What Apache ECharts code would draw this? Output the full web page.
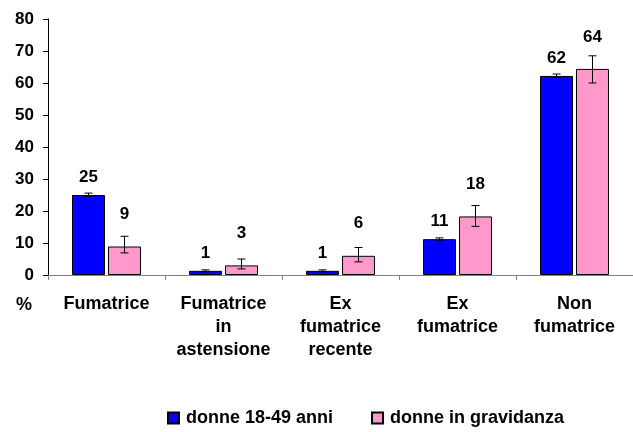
<!DOCTYPE html>
<html><head><meta charset="utf-8">
<script src="https://cdn.jsdelivr.net/npm/echarts@6/dist/echarts.min.js"></script>
<style>html,body{margin:0;padding:0;background:#fff}#c{width:633px;height:432px}</style>
</head><body><div id="c"></div>
<script>
const categories = ['Fumatrice', 'Fumatrice\nin\nastensione', 'Ex\nfumatrice\nrecente', 'Ex\nfumatrice', 'Non\nfumatrice'];
const seriesNames = ['donne 18-49 anni', 'donne in gravidanza'];
const womenValues = [25.0, 1.3, 1.3, 11.2, 62.2];
const pregnantValues = [8.9, 3.0, 6.0, 18.3, 64.4];
const womenLow = [24.5, 1.0, 1.0, 10.9, 61.7];
const womenHigh = [25.6, 1.6, 1.6, 11.6, 62.8];
const pregnantLow = [6.9, 1.9, 4.1, 15.2, 60.0];
const pregnantHigh = [12.1, 5.0, 8.6, 21.7, 68.5];
const yTicks = [0, 10, 20, 30, 40, 50, 60, 70, 80];

const FONT = 'Liberation Sans, Arial, sans-serif';
const BAR_W = 33, OFFSET = 18;

function errorSeries(low, high, dx) {
  return {
    type: 'custom',
    silent: true,
    z: 5,
    data: low.map((l, i) => [i, l, high[i]]),
    renderItem: function (params, api) {
      const i = api.value(0);
      const p1 = api.coord([i, api.value(1)]);
      const p2 = api.coord([i, api.value(2)]);
      const x = p1[0] + dx;
      const hw = 4;
      const st = { stroke: '#000', lineWidth: 1 };
      return {
        type: 'group',
        children: [
          { type: 'line', shape: { x1: x, y1: p1[1], x2: x, y2: p2[1] }, style: st },
          { type: 'line', shape: { x1: x - hw, y1: p1[1], x2: x + hw, y2: p1[1] }, style: st },
          { type: 'line', shape: { x1: x - hw, y1: p2[1], x2: x + hw, y2: p2[1] }, style: st }
        ]
      };
    }
  };
}

const chart = echarts.init(document.getElementById('c'));
chart.setOption({
  animation: false,
  textStyle: { fontFamily: FONT },
  grid: { left: 48, top: 19, width: 592, height: 256 },
  legend: {
    top: 404,
    left: 162,
    itemWidth: 11,
    itemHeight: 11,
    itemGap: 38,
    icon: 'rect',
    data: seriesNames,
    textStyle: { fontFamily: FONT, fontWeight: 'bold', fontSize: 18, color: '#000', padding: [0, 0, 0, 2] }
  },
  graphic: [{
    type: 'text', x: 16, y: 305,
    style: { text: '%', font: 'bold 18px ' + FONT, fill: '#000', verticalAlign: 'middle' }
  }],
  xAxis: {
    type: 'category',
    data: categories,
    axisLine: { lineStyle: { color: '#808080', width: 1 } },
    axisTick: { show: true, length: 5, lineStyle: { color: '#808080' } },
    axisLabel: { color: '#000', fontWeight: 'bold', fontSize: 18, fontFamily: FONT, lineHeight: 23, margin: 18, interval: 0 }
  },
  yAxis: {
    type: 'value',
    min: 0, max: 80, interval: 10,
    splitLine: { show: false },
    axisLine: { show: true, lineStyle: { color: '#000' } },
    axisTick: { show: true, length: 5, lineStyle: { color: '#000' } },
    axisLabel: {
      color: '#000', fontWeight: 'bold', fontSize: 17, fontFamily: FONT, margin: 14,
      formatter: v => yTicks.includes(v) ? String(v) : ''
    }
  },
  series: [
    {
      name: seriesNames[0], type: 'bar', data: womenValues,
      barWidth: BAR_W, barGap: '9%',
      itemStyle: { color: '#0000FF', borderColor: '#000', borderWidth: 1 },
      label: { show: true, position: 'top', distance: 9.5, color: '#000', fontWeight: 'bold', fontSize: 17, fontFamily: FONT, formatter: p => Math.round(p.value) }
    },
    {
      name: seriesNames[1], type: 'bar', data: pregnantValues,
      barWidth: BAR_W,
      itemStyle: { color: '#FF99CC', borderColor: '#000', borderWidth: 1 },
      label: { show: true, position: 'top', distance: 23.5, color: '#000', fontWeight: 'bold', fontSize: 17, fontFamily: FONT, formatter: p => Math.round(p.value) }
    },
    errorSeries(womenLow, womenHigh, -OFFSET),
    errorSeries(pregnantLow, pregnantHigh, OFFSET)
  ]
});
</script>
</body></html>
